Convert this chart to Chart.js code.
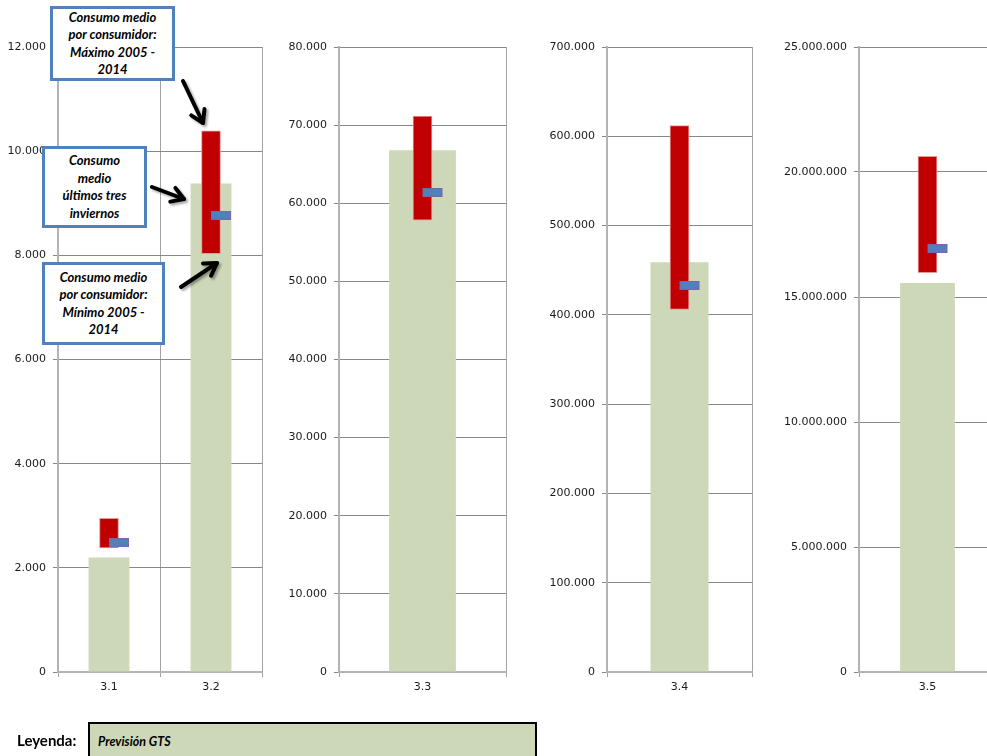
<!DOCTYPE html>
<html lang="es">
<head>
<meta charset="utf-8">
<title>Consumo medio por consumidor</title>
<script src="https://cdn.jsdelivr.net/npm/chart.js@4.4.1/dist/chart.umd.min.js"></script>
<style>
  html, body { margin: 0; padding: 0; background: #fff; }
  body { position: relative; width: 987px; height: 756px; overflow: hidden; }
  .panel { position: absolute; top: 0; }
  .nota {
    position: absolute; box-sizing: border-box; background: #fff;
    border: 3px solid #4f81bd; color: #000;
    font: italic bold 13px Lato, "Open Sans", sans-serif; line-height: 17.5px;
    text-align: center; display: flex; align-items: center; justify-content: center;
  }
  #flechas { position: absolute; left: 0; top: 0; pointer-events: none;
    filter: drop-shadow(2px 2px 1px rgba(0,0,0,0.35)); }
  #leyenda-titulo { position: absolute; left: 17px; top: 731px;
    font: bold 15px Lato, "Open Sans", sans-serif; color: #000; }
  #leyenda-caja { position: absolute; left: 88px; top: 722px; width: 449px; height: 44px;
    box-sizing: border-box; border: 2.5px solid #000; background: #ccd8b8;
    font: italic bold 12.5px Lato, "Open Sans", sans-serif; color: #000;
    padding: 10px 0 0 8px; }
</style>
</head>
<body>

<div class="panel" id="p0"><canvas id="c0"></canvas></div>
<div class="panel" id="p1"><canvas id="c1"></canvas></div>
<div class="panel" id="p2"><canvas id="c2"></canvas></div>
<div class="panel" id="p3"><canvas id="c3"></canvas></div>

<div class="nota" style="left:50px;top:6px;width:125px;height:75px;">Consumo medio<br>por consumidor:<br>Máximo 2005 -<br>2014</div>
<div class="nota" style="left:42px;top:146px;width:105px;height:82px;">Consumo<br>medio<br>últimos tres<br>inviernos</div>
<div class="nota" style="left:42px;top:262px;width:123px;height:83px;">Consumo medio<br>por consumidor:<br>Mínimo 2005 -<br>2014</div>

<svg id="flechas" width="987" height="756"></svg>

<div id="leyenda-titulo">Leyenda:</div>
<div id="leyenda-caja">Previsión GTS</div>

<script>
// grupos de consumo y valores por grupo
const grupos = ['3.1', '3.2', '3.3', '3.4', '3.5'];
const previsionGTS = [2200, 9380, 66800, 459000, 15560000];
const minimo = [2380, 8030, 57850, 406000, 15970000];
const maximo = [2950, 10390, 71170, 612000, 20630000];
const mediaTresInviernos = [2480, 8770, 61400, 433000, 16930000];

// qué grupos van en cada gráfico y su eje vertical
const paneles = [[0, 1], [2], [3], [4]];
const ejeMax = [12000, 80000, 700000, 25000000];
const ejePaso = [2000, 10000, 100000, 5000000];

// posición de cada lienzo en la página
const lienzos = [
  { left: 0,   width: 267, ejeAncho: 58 },
  { left: 270, width: 241, ejeAncho: 69 },
  { left: 520, width: 237, ejeAncho: 87 },
  { left: 770, width: 231, ejeAncho: 89 }
];

const verde = '#ccd8b8';
const rojo = '#c00000';
const fuente = { family: '"DejaVu Sans", Verdana, sans-serif', size: 11 };

function miles(v) {
  return v.toString().replace(/\B(?=(\d{3})+(?!\d))/g, '.');
}

// marca azul: rectángulo a la derecha del centro de la categoría
function marcador() {
  const c = document.createElement('canvas');
  c.width = 42; c.height = 9;
  const g = c.getContext('2d');
  g.fillStyle = '#4f81bd';
  g.fillRect(21, 0, 20, 9);
  g.strokeStyle = '#8064a2';
  g.lineWidth = 1;
  g.strokeRect(21.5, 0.5, 19, 8);
  return c;
}
const marca = marcador();

paneles.forEach((idx, i) => {
  const pos = lienzos[i];
  const div = document.getElementById('p' + i);
  div.style.left = pos.left + 'px';
  const canvas = document.getElementById('c' + i);
  canvas.width = pos.width;
  canvas.height = 700;

  const etiquetas = idx.map(k => grupos[k]);

  new Chart(canvas.getContext('2d'), {
    type: 'bar',
    data: {
      labels: etiquetas,
      datasets: [
        {
          label: 'Media últimos tres inviernos',
          type: 'line',
          data: idx.map(k => mediaTresInviernos[k]),
          showLine: false,
          pointStyle: marca,
          order: 1
        },
        {
          label: 'Consumo medio por consumidor 2005 - 2014',
          data: idx.map(k => [minimo[k], maximo[k]]),
          backgroundColor: rojo,
          borderColor: '#e39a9a',
          borderWidth: 1,
          borderSkipped: false,
          barThickness: 19,
          grouped: false,
          order: 2
        },
        {
          label: 'Previsión GTS',
          data: idx.map(k => previsionGTS[k]),
          backgroundColor: verde,
          barPercentage: 0.4,
          categoryPercentage: 1,
          grouped: false,
          order: 3
        }
      ]
    },
    options: {
      responsive: false,
      animation: false,
      layout: { padding: { top: 47, right: 2, left: 0, bottom: 0 } },
      plugins: { legend: { display: false }, tooltip: { enabled: false } },
      scales: {
        x: {
          offset: true,
          grid: { offset: true, color: '#a3a3a3', tickLength: 5 },
          border: { color: '#b3b3b3', width: 2 },
          ticks: { font: fuente, color: '#1a1a1a', padding: 4 },
          afterFit(s) { s.height = 28; }
        },
        y: {
          min: 0,
          max: ejeMax[i],
          ticks: { stepSize: ejePaso[i], callback: v => miles(v), font: fuente, color: '#1a1a1a', padding: 7 },
          grid: { color: '#878787', tickLength: 5 },
          border: { color: '#b3b3b3', width: 2 },
          afterFit(s) { s.width = pos.ejeAncho; }
        }
      }
    }
  });
});

// flechas negras que señalan la barra del grupo 3.2
const flechas = [
  [183, 81, 203, 123],
  [152, 187, 184, 199],
  [181, 287, 217, 263]
];
const svg = document.getElementById('flechas');
let trazos = '';
flechas.forEach(([x1, y1, x2, y2]) => {
  const ang = Math.atan2(y2 - y1, x2 - x1);
  const l = 14, a = 0.55;
  const ax = x2 - l * Math.cos(ang - a), ay = y2 - l * Math.sin(ang - a);
  const bx = x2 - l * Math.cos(ang + a), by = y2 - l * Math.sin(ang + a);
  trazos += `<line x1="${x1}" y1="${y1}" x2="${x2}" y2="${y2}" stroke="#000" stroke-width="4" stroke-linecap="round"/>`;
  trazos += `<polyline points="${ax},${ay} ${x2},${y2} ${bx},${by}" fill="none" stroke="#000" stroke-width="4" stroke-linecap="round" stroke-linejoin="round"/>`;
});
svg.innerHTML = trazos;
</script>
</body>
</html>
